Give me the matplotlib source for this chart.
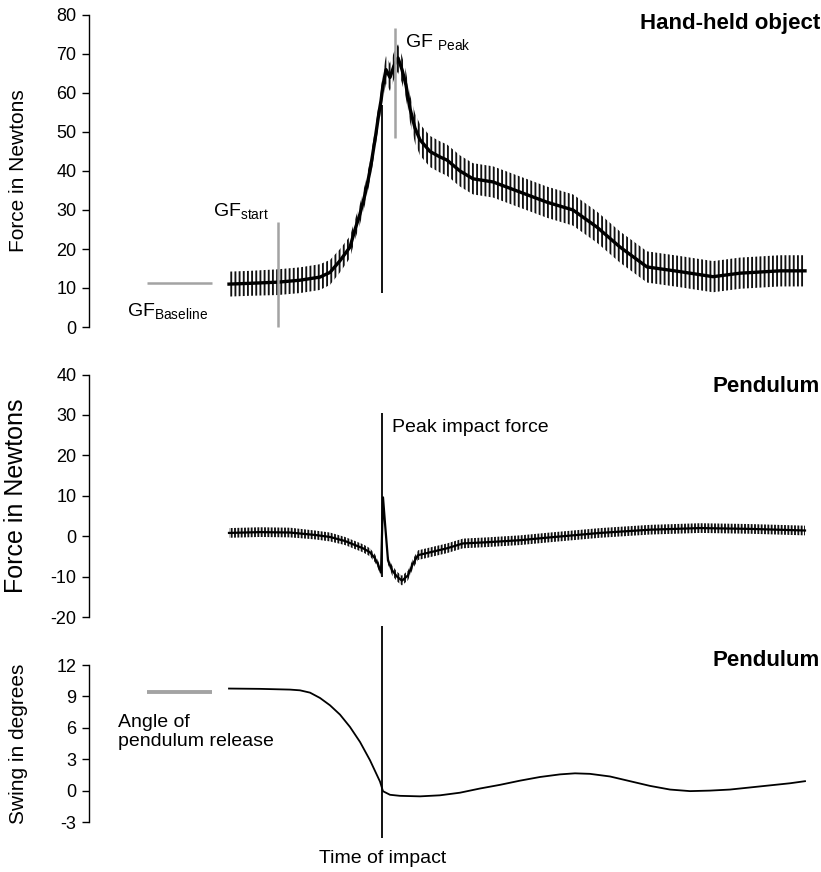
import numpy as np
import matplotlib
matplotlib.use("Agg")
import matplotlib.pyplot as plt

plt.rcParams['font.family'] = ['Liberation Sans', 'DejaVu Sans']
plt.rcParams['mathtext.fontset'] = 'custom'
plt.rcParams['mathtext.rm'] = 'Liberation Sans'
plt.rcParams['mathtext.it'] = 'Liberation Sans:italic'
plt.rcParams['mathtext.bf'] = 'Liberation Sans:bold'
plt.rcParams['hatch.linewidth'] = 1.35
plt.rcParams['axes.unicode_minus'] = False

# ---------------- data (time in ms relative to impact) ----------------
# Panel 1: grip force on the hand-held object (N)
grip_time = [-306, -264, -208, -164, -124, -104, -84, -64, -54, -44, -34, -24, -14,
             -6, -2, 2, 8, 16, 24, 32, 40, 48, 56, 66, 76, 96, 116, 130, 156, 182,
             222, 276, 330, 382, 430, 476, 530, 596, 662, 716, 796, 846]
grip_mean = [11, 11.2, 11.5, 12, 12.8, 14, 17, 20.5, 25, 29, 34, 40, 48,
             55, 58, 62, 66, 64, 67, 69, 66, 62, 56, 51, 48, 45, 43.6, 42.8, 40, 38,
             37.2, 34.6, 32, 30, 25.6, 20.5, 15.4, 14.2, 12.9, 13.8, 14.4, 14.4]
grip_ripple = [3.2, 3.2, 3.3, 3.3, 3.3, 3.2, 3.0, 2.8, 2.6, 2.6, 2.6, 2.6, 2.6,
               2.6, 2.8, 3.5, 3.5, 3.5, 3.5, 3.5, 3.5, 3.5, 3.5, 3.8, 4.0, 4.0, 4.0, 4.0, 4.0, 4.0,
               4.0, 4.0, 4.0, 4.0, 4.0, 4.0, 4.0, 4.0, 4.0, 4.0, 4.0, 4.0]
grip_impact_spike = (8.7, 57)          # thin vertical trace at impact
gf_start = (-208, 0, 27)               # time, from, to
gf_peak = (26, 48.5, 76.7)
gf_baseline = (-470, -340, 11.3)       # from, to, level

# Panel 2: pendulum force (N)
pend_time = [-306, -244, -184, -134, -104, -74, -54, -38, -24, -14, -8, -2,
             2, 6, 12, 20, 30, 40, 52, 62, 72, 96, 130, 162, 210, 276, 336,
             436, 536, 636, 736, 846]
pend_force = [0.8, 1.0, 0.9, 0.3, -0.2, -1.2, -2.2, -3.0, -4.0, -5.5, -7.0, -9.0,
              9.6, 3.2, -6.0, -8.4, -10.0, -11.0, -9.7, -6.8, -4.7, -4.0, -3.0, -1.8, -1.5, -1.0, -0.3,
              0.8, 1.6, 2.0, 1.8, 1.4]
pend_ripple = [1.2, 1.2, 1.2, 1.1, 1.1, 1.0, 1.0, 1.0, 1.0, 1.0, 1.0, 1.0,
               0.0, 0.3, 1.0, 1.2, 1.2, 1.2, 1.2, 1.2, 1.2, 1.2, 1.2, 1.2, 1.2, 1.2, 1.2,
               1.2, 1.2, 1.2, 1.2, 1.2]
pend_impact_spike = (-10, 30.5)

# Panel 3: pendulum swing angle (degrees)
swing_time = [-306, -244, -184, -164, -144, -124, -104, -84, -64, -44, -24, -4, 2,
              16, 36, 76, 116, 156, 196, 236, 276, 316, 356, 386, 416, 456, 496,
              536, 576, 616, 656, 696, 736, 776, 816, 846]
swing_deg = [9.75, 9.72, 9.65, 9.58, 9.36, 8.85, 8.15, 7.26, 6.08, 4.65, 2.9, 0.86, -0.06,
             -0.4, -0.5, -0.55, -0.45, -0.2, 0.2, 0.55, 0.95, 1.3, 1.55, 1.65, 1.6, 1.35, 0.9,
             0.45, 0.1, -0.05, 0.0, 0.1, 0.3, 0.5, 0.7, 0.9]
release = (-470, -340, 9.4)
impact_line = (-4.5, 15.7)

# ---------------- figure ----------------
W, H = 821, 872
fig = plt.figure(figsize=(W / 100, H / 100), dpi=100)


def axes_px(top, bottom, left=89, right=815):
    return fig.add_axes([left / W, 1 - bottom / H, (right - left) / W, (bottom - top) / H])


ax1 = axes_px(15, 327)
ax2 = axes_px(374.5, 617)
ax3 = axes_px(665, 822)

XLIM = (-586, 866)
GRAY = '#a3a3a3'
HATCH_C = '#111111'


def style(ax, ylim, ticks, size=13):
    ax.set_xlim(*XLIM)
    ax.set_ylim(*ylim)
    ax.set_yticks(ticks)
    for s in ('top', 'right', 'bottom'):
        ax.spines[s].set_visible(False)
    ax.spines['left'].set_linewidth(1.0)
    ax.set_xticks([])
    ax.tick_params(axis='y', direction='out', length=5, width=1.0, pad=4, labelsize=size)
    ax.patch.set_visible(False)


# Panel 1
g_t = np.array(grip_time, float)
g_m = np.array(grip_mean, float)
g_r = np.array(grip_ripple, float)
ax1.fill_between(g_t, g_m - g_r, g_m + g_r, facecolor='none', edgecolor=HATCH_C,
                 linewidth=0, hatch='||||')
ax1.plot(g_t, g_m, color='black', lw=2.4, solid_joinstyle='round')
ax1.vlines(0, *grip_impact_spike, color='black', lw=1.3)
ax1.vlines(gf_start[0], gf_start[1], gf_start[2], color=GRAY, lw=1.8, clip_on=False)
ax1.vlines(gf_peak[0], gf_peak[1], gf_peak[2], color=GRAY, lw=1.8, clip_on=False)
ax1.hlines(gf_baseline[2], gf_baseline[0], gf_baseline[1], color=GRAY, lw=1.8)
style(ax1, (0, 80), range(0, 81, 10))
ax1.set_ylabel('Force in Newtons', fontsize=15, labelpad=10)
ax1.text(-338, 28.5, r'GF$_{\mathrm{start}}$', fontsize=14, va='baseline', ha='left')
ax1.text(46, 71.8, r'GF $_{\mathrm{Peak}}$', fontsize=14, va='baseline', ha='left')
ax1.text(-510, 2.8, r'GF$_{\mathrm{Baseline}}$', fontsize=14, va='baseline', ha='left')

# Panel 2
p_t = np.array(pend_time, float)
p_f = np.array(pend_force, float)
p_r = np.array(pend_ripple, float)
ax2.fill_between(p_t, p_f - p_r, p_f + p_r, facecolor='none', edgecolor=HATCH_C,
                 linewidth=0, hatch='|||||')
ax2.plot(p_t, p_f, color='black', lw=1.6)
ax2.vlines(0, *pend_impact_spike, color='black', lw=1.3)
style(ax2, (-20, 40), range(-20, 41, 10))
ax2.set_ylabel('Force in Newtons', fontsize=18, labelpad=10)
ax2.text(20, 27, 'Peak impact force', fontsize=14, va='center', ha='left')

# Panel 3
ax3.plot(swing_time, swing_deg, color='black', lw=1.3)
ax3.vlines(0, *impact_line, color='black', lw=1.3, clip_on=False)
ax3.hlines(release[2], release[0], release[1], color=GRAY, lw=2.8)
style(ax3, (-3, 12), range(-3, 13, 3))
ax3.set_ylabel('Swing in degrees', fontsize=15, labelpad=10)
ax3.text(-528, 5.6, 'Angle of\npendulum release', fontsize=14,
         va='center', ha='left', linespacing=1.15)

# Labels outside axes
fig.text(1 - 1 / W, 1 - 24 / H, 'Hand-held object', fontsize=16, fontweight='bold',
         ha='right', va='center')
fig.text(1 - 1 / W, 1 - 386 / H, 'Pendulum', fontsize=16, fontweight='bold',
         ha='right', va='center')
fig.text(1 - 1 / W, 1 - 661 / H, 'Pendulum', fontsize=16, fontweight='bold',
         ha='right', va='center')
fig.text(383 / W, 1 - 858 / H, 'Time of impact', fontsize=14,
         ha='center', va='center')

for ax in (ax1, ax2, ax3):
    ax.yaxis.set_label_coords(-(89 - 28) / (815 - 89), 0.5)

fig.savefig('out.png', dpi=100)
